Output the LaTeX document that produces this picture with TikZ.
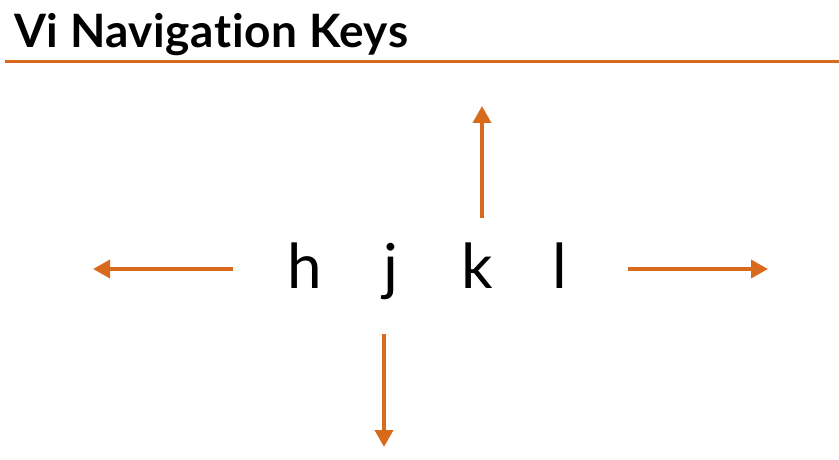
\documentclass[tikz,border=0pt]{standalone}
\usepackage{fontspec}
\setmainfont{Lato}[Ligatures={NoCommon,NoRare}]
\newfontfamily\titlefont{Lato}[Ligatures={NoCommon,NoRare}, LetterSpace=1.2]
\usetikzlibrary{arrows.meta}
\definecolor{accent}{RGB}{216,106,28}
\tikzset{
  navarrow/.style={draw=accent, line width=3.5pt, -{Triangle[length=17pt,width=18pt]}},
  keyletter/.style={font=\fontsize{62}{62}\selectfont, text=black, anchor=base, inner sep=0pt},
  titletext/.style={font=\titlefont\bfseries\fontsize{46}{46}\selectfont, text=black, anchor=base west, inner sep=0pt},
  rule/.style={draw=accent, line width=3pt}
}
\begin{document}
\begin{tikzpicture}[x=1pt,y=-1pt]
\useasboundingbox (0,0) rectangle (839,460);
\node[titletext] (title) at (14,48) {Vi Navigation Keys};
\coordinate (ruleL) at (5,62);
\coordinate (ruleR) at (839,62);
\draw[rule] (ruleL) -- (ruleR);
\node[keyletter] (h) at (305,288) {h};
\node[keyletter] (j) at (391,288) {j};
\node[keyletter] (k) at (477,288) {k};
\node[keyletter] (l) at (560,288) {l};
\coordinate (leftS) at (233,269);
\coordinate (leftE) at (93,269);
\coordinate (rightS) at (628,269);
\coordinate (rightE) at (768,269);
\coordinate (upS) at (482,218);
\coordinate (upE) at (482,106);
\coordinate (downS) at (384,334);
\coordinate (downE) at (384,447);
\draw[navarrow] (leftS) -- (leftE);
\draw[navarrow] (rightS) -- (rightE);
\draw[navarrow] (upS) -- (upE);
\draw[navarrow] (downS) -- (downE);
\end{tikzpicture}
\end{document}
